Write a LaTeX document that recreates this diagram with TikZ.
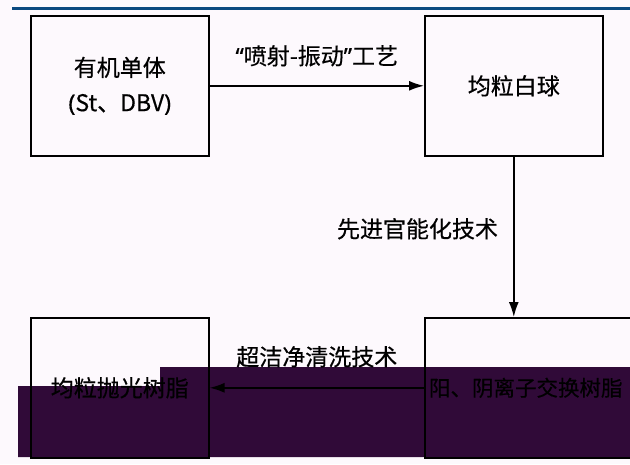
\documentclass[tikz,border=0pt]{standalone}
\usepackage{fontspec}
\setmainfont[FakeBold=0.5]{Noto Sans CJK SC}
\newfontfamily\latinf[FakeBold=0.5]{Noto Sans}
\usetikzlibrary{arrows.meta}
\definecolor{bgc}{RGB}{253,249,253}
\definecolor{bandc}{RGB}{48,10,56}
\definecolor{bluec}{RGB}{11,74,128}
\begin{document}
\begin{tikzpicture}[x=1pt,y=-1pt,
  font=\fontsize{23}{35}\selectfont,
  box/.style={draw, line width=1.6pt, minimum width=178pt, minimum height=140pt,
    inner sep=0pt, anchor=north west, align=center},
  arr/.style={line width=1.6pt, -{Latex[length=15pt,width=10pt]}},
  lbl/.style={inner sep=0pt}]
\useasboundingbox (0,0) rectangle (630,464);
\clip (0,0) rectangle (630,464);
\fill[bgc] (0,0) rectangle (630,464);
\fill[bandc] (18,386) -- (160,386) -- (160,367) -- (630,367) -- (630,457) -- (18,457) -- cycle;
\draw[bluec, line width=3pt] (12,8) -- (630,8);
\node[box] (a) at (30,15) {有机单体\\{\latinf(}St、DBV{\latinf)}};
\node[box] (b) at (424,15) {均粒白球};
\node[box, minimum width=232pt, font=\fontsize{21.5}{35}\selectfont] (c) at (424,317) {阳、阴离子交换树脂\hspace*{30pt}};
\node[box] (d) at (30,317) {均粒抛光树脂};
\draw[arr] (a) -- node[lbl, midway, yshift=30pt] {{\latinf“}喷射-振动{\latinf”}工艺} (b);
\draw[arr] (b.south) -- node[lbl, midway, left=15pt, yshift=8pt] {先进官能化技术} (b.south |- c.north);
\draw[arr] (c.west) -- node[lbl, midway, yshift=31pt] {超洁净清洗技术} (d.east);
\end{tikzpicture}
\end{document}
